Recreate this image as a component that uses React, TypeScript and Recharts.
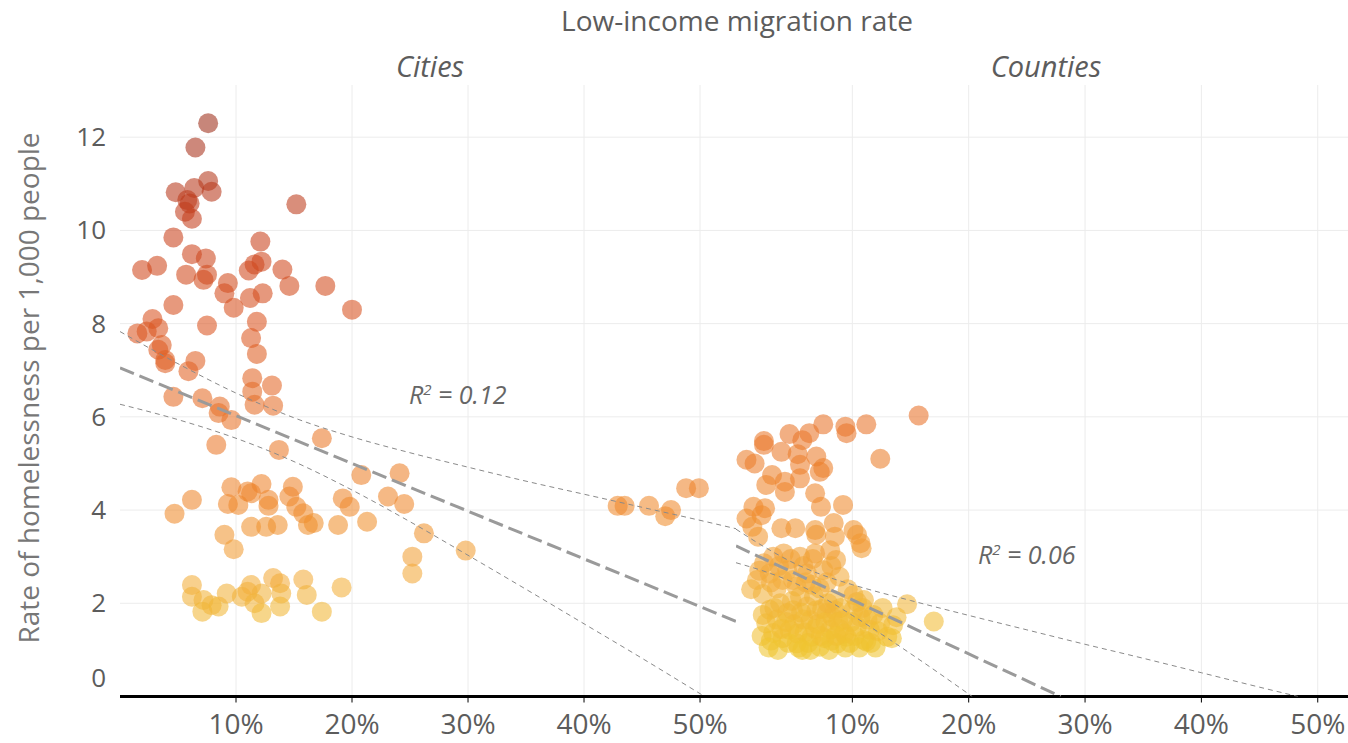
import React from 'react'
import { ScatterChart, Scatter, XAxis, YAxis, CartesianGrid } from 'recharts'

const FONT = '"Open Sans", sans-serif'
const TEXT = '#5c5c5c'

const xTicks = [10, 20, 30, 40, 50]
const yTicks = [0, 2, 4, 6, 8, 10, 12]

// cities: [low-income migration %, homeless per 1,000]
const cityPoints = [
  [7.6, 12.3], [6.5, 11.78], [4.8, 10.82], [6.4, 10.91], [7.6, 11.06], [7.9, 10.83], [5.8, 10.65],
  [6.0, 10.58], [5.6, 10.4], [6.2, 10.25], [15.2, 10.56], [4.6, 9.85], [6.2, 9.49], [7.4, 9.4],
  [1.9, 9.15], [3.2, 9.24], [5.7, 9.05], [7.2, 8.94], [7.5, 9.05], [12.1, 9.76], [12.2, 9.33],
  [11.6, 9.27], [11.1, 9.14], [14.0, 9.16], [14.6, 8.81], [17.7, 8.81], [9.3, 8.87], [9.0, 8.65],
  [11.2, 8.55], [12.3, 8.65], [20.0, 8.3], [4.6, 8.4], [9.8, 8.34], [7.5, 7.96], [11.8, 8.04],
  [2.8, 8.1], [3.3, 7.9], [1.5, 7.79], [2.3, 7.83], [11.3, 7.69], [11.8, 7.35], [3.6, 7.54],
  [3.3, 7.44], [3.9, 7.22], [3.9, 7.15], [6.5, 7.2], [5.9, 6.98], [11.4, 6.83], [13.1, 6.67],
  [11.4, 6.54], [4.6, 6.43], [7.1, 6.4], [8.6, 6.22], [8.5, 6.08], [11.6, 6.26], [13.2, 6.24],
  [9.6, 5.93], [8.3, 5.4], [17.4, 5.54], [13.7, 5.29],
  [20.8, 4.75], [24.1, 4.79], [23.1, 4.29], [24.5, 4.13], [19.2, 4.25], [19.8, 4.07], [18.8, 3.68],
  [21.3, 3.75], [26.2, 3.5], [29.8, 3.13], [25.2, 3.0], [25.2, 2.64], [19.1, 2.34],
  [42.9, 4.09], [43.5, 4.09], [45.6, 4.09], [47.0, 3.87], [47.5, 4.0], [48.8, 4.47], [49.9, 4.47],
  [6.2, 4.22], [4.7, 3.92], [9.6, 4.49], [9.3, 4.13], [10.2, 4.11], [11.0, 4.4], [11.3, 4.36],
  [12.2, 4.56], [12.8, 4.22], [12.8, 4.09], [14.9, 4.5], [14.6, 4.29], [15.2, 4.07], [15.8, 3.93],
  [16.2, 3.68], [16.7, 3.72], [11.3, 3.64], [12.6, 3.64], [13.6, 3.68], [9.0, 3.47], [9.8, 3.16],
  [6.2, 2.39], [6.2, 2.14], [7.2, 2.07], [7.1, 1.82], [7.9, 1.96], [8.5, 1.93], [9.2, 2.21],
  [10.5, 2.14], [11.3, 2.39], [11.0, 2.25], [11.6, 2.0], [12.2, 1.79], [13.2, 2.54], [13.8, 2.43],
  [13.9, 2.21], [13.8, 1.93], [15.8, 2.51], [16.1, 2.18], [17.4, 1.82], [12.2, 2.21],
]

const countyPoints = [
  [15.7, 6.03], [11.2, 5.84], [9.4, 5.79], [9.5, 5.65], [7.5, 5.84], [6.3, 5.65], [5.7, 5.5],
  [4.6, 5.63], [2.4, 5.48], [2.4, 5.4], [12.4, 5.1], [0.9, 5.08], [1.6, 5.0], [3.9, 5.25],
  [5.3, 5.2], [6.9, 5.15], [5.5, 4.97], [7.5, 4.9], [7.2, 4.82], [3.1, 4.75], [4.2, 4.61],
  [5.5, 4.68], [2.6, 4.54], [4.2, 4.39], [6.8, 4.36], [7.3, 4.07], [9.2, 4.11], [1.5, 4.07],
  [2.5, 4.04], [2.2, 3.89], [0.9, 3.82], [1.4, 3.64], [3.9, 3.61], [5.1, 3.61], [6.8, 3.57],
  [8.4, 3.72], [10.1, 3.57], [10.4, 3.47], [1.9, 3.43], [8.5, 3.43],
  [10.8, 3.18], [14.7, 1.98], [17.0, 1.61], [13.5, 1.53], [13.4, 1.25], [11.2, 1.18], [10.4, 2.03],
  [6.9, 3.47], [10.7, 3.29], [6.8, 3.07], [8.1, 3.14], [8.6, 2.93], [4.1, 3.07], [5.5, 3.0],
  [2.4, 2.86], [3.2, 3.0], [1.8, 2.5], [2.9, 2.64], [4.4, 2.71], [6.1, 2.64], [7.5, 2.71],
  [8.9, 2.57], [3.5, 2.32], [5.2, 2.36], [7.2, 2.32], [10.1, 2.18], [11.0, 2.07],
  [2.0, 2.7], [3.0, 2.45], [4.7, 2.95], [5.8, 2.8], [6.6, 2.95], [7.8, 2.45], [3.7, 2.8],
  [4.9, 2.5], [6.5, 2.4], [8.2, 2.8], [1.3, 2.3], [2.3, 2.2],
  [2.9, 1.86], [2.6, 1.57], [3.2, 1.36], [4.4, 1.79], [4.6, 1.43], [5.2, 1.14], [6.1, 1.93],
  [6.4, 1.64], [6.5, 1.28], [7.2, 1.07], [7.8, 1.79], [8.1, 1.43], [8.7, 1.14], [9.2, 1.64],
  [9.5, 1.28], [10.1, 1.86], [10.4, 1.5], [11.0, 1.21], [11.5, 1.43], [12.4, 1.57], [13.0, 1.28],
  [6.4, 1.0], [3.8, 2.0], [5.5, 2.14], [8.4, 2.07],
  [3.5, 1.65], [4.0, 1.25], [5.0, 1.55], [5.6, 1.8], [5.9, 1.38], [7.0, 1.55], [7.4, 1.88],
  [7.6, 1.25], [8.3, 1.7], [8.9, 1.45], [9.8, 1.15], [9.0, 1.9], [10.7, 1.7], [11.8, 1.75],
  [12.0, 1.05], [3.0, 1.2], [4.8, 2.05], [6.7, 2.15], [9.6, 2.3], [8.0, 1.0], [5.4, 1.05],
  [2.3, 1.75], [12.6, 1.9], [13.8, 1.7], [6.0, 2.45], [4.0, 2.5],
  [2.2, 1.3], [2.8, 1.05], [3.6, 1.0], [4.3, 1.6], [4.9, 1.85], [5.3, 1.35], [5.8, 1.65],
  [6.2, 1.15], [6.8, 1.45], [6.9, 1.85], [7.3, 1.3], [7.7, 1.6], [8.2, 1.2], [8.5, 1.85],
  [8.8, 1.6], [9.3, 1.35], [9.4, 1.05], [9.9, 1.6], [10.2, 1.3], [10.6, 1.05], [11.3, 1.65],
  [11.6, 1.15], [3.3, 1.9], [4.5, 1.15], [5.7, 1.0], [7.9, 2.0], [10.9, 1.9], [12.2, 1.4],
  [3.9, 1.45], [8.6, 1.3],
]

// fitted line and confidence band
const cityFitX = [0, 53.1]
const cityFitY = [7.05, 1.61]
const cityUpperX = [0, 5, 10, 15, 20, 25, 30, 35, 40, 45, 50, 53.1]
const cityUpperY = [7.83, 7.14, 6.51, 5.98, 5.57, 5.23, 4.92, 4.62, 4.34, 4.06, 3.78, 3.6]
const cityLowerX = [0, 5, 10, 15, 20, 25, 30, 35, 40, 45, 50.4]
const cityLowerY = [6.27, 5.94, 5.54, 5.04, 4.43, 3.75, 3.03, 2.3, 1.56, 0.82, 0]

const countyFitX = [0, 27.9]
const countyFitY = [3.23, 0]
const countyUpperX = [0, 2.5, 5, 7.5, 10, 15, 20, 25, 30, 35, 40, 45, 48.3]
const countyUpperY = [3.59, 3.2, 2.86, 2.6, 2.4, 2.06, 1.74, 1.43, 1.12, 0.82, 0.51, 0.2, 0]
const countyLowerX = [0, 2.5, 5, 7.5, 10, 15, 20.3]
const countyLowerY = [2.87, 2.68, 2.44, 2.12, 1.74, 0.92, 0]

const toXY = (xs: number[], ys: number[]) => xs.map((x, i) => ({ x, y: ys[i] }))
const toPts = (arr: number[][]) => arr.map(([x, y]) => ({ x, y }))

const stops: [number, number[]][] = [
  [1, [240, 197, 48]],
  [2.5, [243, 172, 60]],
  [4, [239, 138, 44]],
  [6, [232, 114, 42]],
  [8, [218, 84, 32]],
  [10, [200, 64, 28]],
  [12.5, [155, 44, 26]],
]

function heat(v: number): string {
  if (v <= stops[0][0]) return `rgb(${stops[0][1].join(',')})`
  for (let i = 1; i < stops.length; i++) {
    const [v1, c1] = stops[i]
    const [v0, c0] = stops[i - 1]
    if (v <= v1) {
      const t = (v - v0) / (v1 - v0)
      const c = c0.map((a, k) => Math.round(a + (c1[k] - a) * t))
      return `rgb(${c.join(',')})`
    }
  }
  return `rgb(${stops[stops.length - 1][1].join(',')})`
}

const Dot = (p: any) => (
  <circle cx={p.cx} cy={p.cy} r={10} fill={heat(p.payload.y)} fillOpacity={0.58} />
)
const NoDot = () => <g />

const XTick = ({ x, y, payload }: any) => (
  <text x={x} y={y} dy={29} textAnchor="middle" fill={TEXT} fontSize={28} fontFamily={FONT}>
    {`${payload.value}%`}
  </text>
)

const YTick = ({ x, y, payload }: any) => (
  <text
    x={x}
    y={payload.value === 0 ? y - 19 : y}
    dy={9}
    textAnchor="end"
    fill={TEXT}
    fontSize={26}
    fontFamily={FONT}
  >
    {payload.value}
  </text>
)

const fitLine = { stroke: '#9a9a9a', strokeWidth: 3, strokeDasharray: '15 6' }
const bandLine = { stroke: '#8a8a8a', strokeWidth: 1, strokeDasharray: '5 4' }

function Panel({ points, fit, upper, lower, xMax, width, showY }: any) {
  return (
    <ScatterChart width={width} height={743} margin={{ top: 85, right: 0, bottom: 0, left: 0 }}>
      <CartesianGrid stroke="#ececec" strokeWidth={1} syncWithTicks />
      <XAxis
        type="number"
        dataKey="x"
        domain={[0, xMax]}
        allowDataOverflow
        ticks={xTicks}
        height={46.5}
        axisLine={{ stroke: '#000', strokeWidth: 3 }}
        tickLine={{ stroke: '#000' }}
        tickSize={6}
        tick={<XTick />}
      />
      <YAxis
        type="number"
        dataKey="y"
        domain={[0, 13.12]}
        allowDataOverflow
        ticks={yTicks}
        width={showY ? 120 : 0}
        hide={!showY}
        axisLine={false}
        tickLine={false}
        tickSize={0}
        tickMargin={14}
        tick={<YTick />}
      />
      <Scatter data={points} shape={<Dot />} isAnimationActive={false} />
      <Scatter data={upper} shape={<NoDot />} line={bandLine} lineJointType="monotoneX" isAnimationActive={false} />
      <Scatter data={lower} shape={<NoDot />} line={bandLine} lineJointType="monotoneX" isAnimationActive={false} />
      <Scatter data={fit} shape={<NoDot />} line={fitLine} isAnimationActive={false} />
    </ScatterChart>
  )
}

export default function App() {
  return (
    <div style={{ position: 'absolute', left: 0, top: 0, width: 1348, height: 743, background: '#fff' }}>
      <div style={{ position: 'absolute', left: 0, top: 0 }}>
        <Panel
          points={toPts(cityPoints)}
          fit={toXY(cityFitX, cityFitY)}
          upper={toXY(cityUpperX, cityUpperY)}
          lower={toXY(cityLowerX, cityLowerY)}
          xMax={53.1}
          width={736}
          showY
        />
      </div>
      <div style={{ position: 'absolute', left: 736, top: 0 }}>
        <Panel
          points={toPts(countyPoints)}
          fit={toXY(countyFitX, countyFitY)}
          upper={toXY(countyUpperX, countyUpperY)}
          lower={toXY(countyLowerX, countyLowerY)}
          xMax={52.6}
          width={612}
          showY={false}
        />
      </div>
      <svg
        width={1348}
        height={743}
        style={{ position: 'absolute', left: 0, top: 0, pointerEvents: 'none' }}
        fontFamily={FONT}
      >
        <text x={737} y={22} dy={9} textAnchor="middle" fill={TEXT} fontSize={28}>
          Low-income migration rate
        </text>
        <text x={430} y={68} dy={9} textAnchor="middle" fill={TEXT} fontSize={29} fontStyle="italic">
          Cities
        </text>
        <text x={1046} y={68} dy={9} textAnchor="middle" fill={TEXT} fontSize={29} fontStyle="italic">
          Counties
        </text>
        <text
          transform="translate(30,388) rotate(-90)"
          textAnchor="middle"
          dy={9}
          fill="#777"
          fontSize={28}
        >
          Rate of homelessness per 1,000 people
        </text>
        <text x={409} y={396} dy={8} fill="#666" fontSize={25} fontStyle="italic">
          R<tspan dy={-9} fontSize={15}>2</tspan>
          <tspan dy={9}> = 0.12</tspan>
        </text>
        <text x={978} y={556} dy={8} fill="#666" fontSize={25} fontStyle="italic">
          R<tspan dy={-9} fontSize={15}>2</tspan>
          <tspan dy={9}> = 0.06</tspan>
        </text>
      </svg>
    </div>
  )
}
